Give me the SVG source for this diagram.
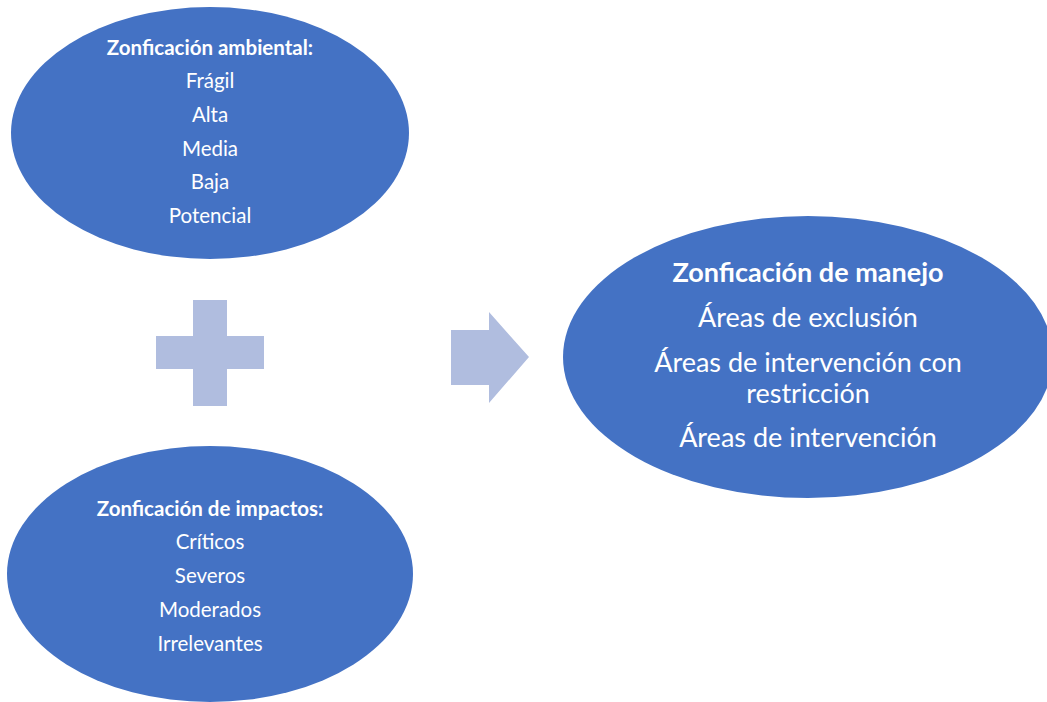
<svg xmlns="http://www.w3.org/2000/svg" width="1047" height="702" viewBox="0 0 1047 702">
<style>
.node{fill:#4472C4}
.sym{fill:#B0BDDF}
text{font-family:Lato,"Open Sans","Liberation Sans",sans-serif;fill:#fff;text-anchor:middle}
.s{font-size:20.5px}
.sb{font-size:20.5px;font-weight:bold}
.l{font-size:27px}
.lb{font-size:27px;font-weight:bold}
</style>
<rect width="1047" height="702" fill="#fff"/>
<g id="ambiental">
<ellipse class="node" cx="210" cy="133" rx="199" ry="126"/>
<text class="sb" x="210" y="55">Zonficación ambiental:</text>
<text class="s" x="210" y="88">Frágil</text>
<text class="s" x="210" y="122">Alta</text>
<text class="s" x="210" y="156">Media</text>
<text class="s" x="210" y="189">Baja</text>
<text class="s" x="210" y="223">Potencial</text>
</g>
<g id="impactos">
<ellipse class="node" cx="210" cy="574" rx="203" ry="128"/>
<text class="sb" x="210" y="516">Zonficación de impactos:</text>
<text class="s" x="210" y="549">Críticos</text>
<text class="s" x="210" y="583">Severos</text>
<text class="s" x="210" y="617">Moderados</text>
<text class="s" x="210" y="651">Irrelevantes</text>
</g>
<g id="manejo">
<ellipse class="node" cx="808" cy="357" rx="245" ry="141"/>
<text class="lb" x="808" y="282">Zonficación de manejo</text>
<text class="l" x="808" y="327">Áreas de exclusión</text>
<text class="l" x="808" y="372">Áreas de intervención con</text>
<text class="l" x="808" y="403">restricción</text>
<text class="l" x="808" y="447">Áreas de intervención</text>
</g>
<g id="connectors">
<path id="plus" class="sym" d="M193,300H227V336H264V369H227V406H193V369H156V336H193Z"/>
<path id="arrow" class="sym" d="M451,330H489V312L529,357L489,403V385H451Z"/>
</g>
</svg>
